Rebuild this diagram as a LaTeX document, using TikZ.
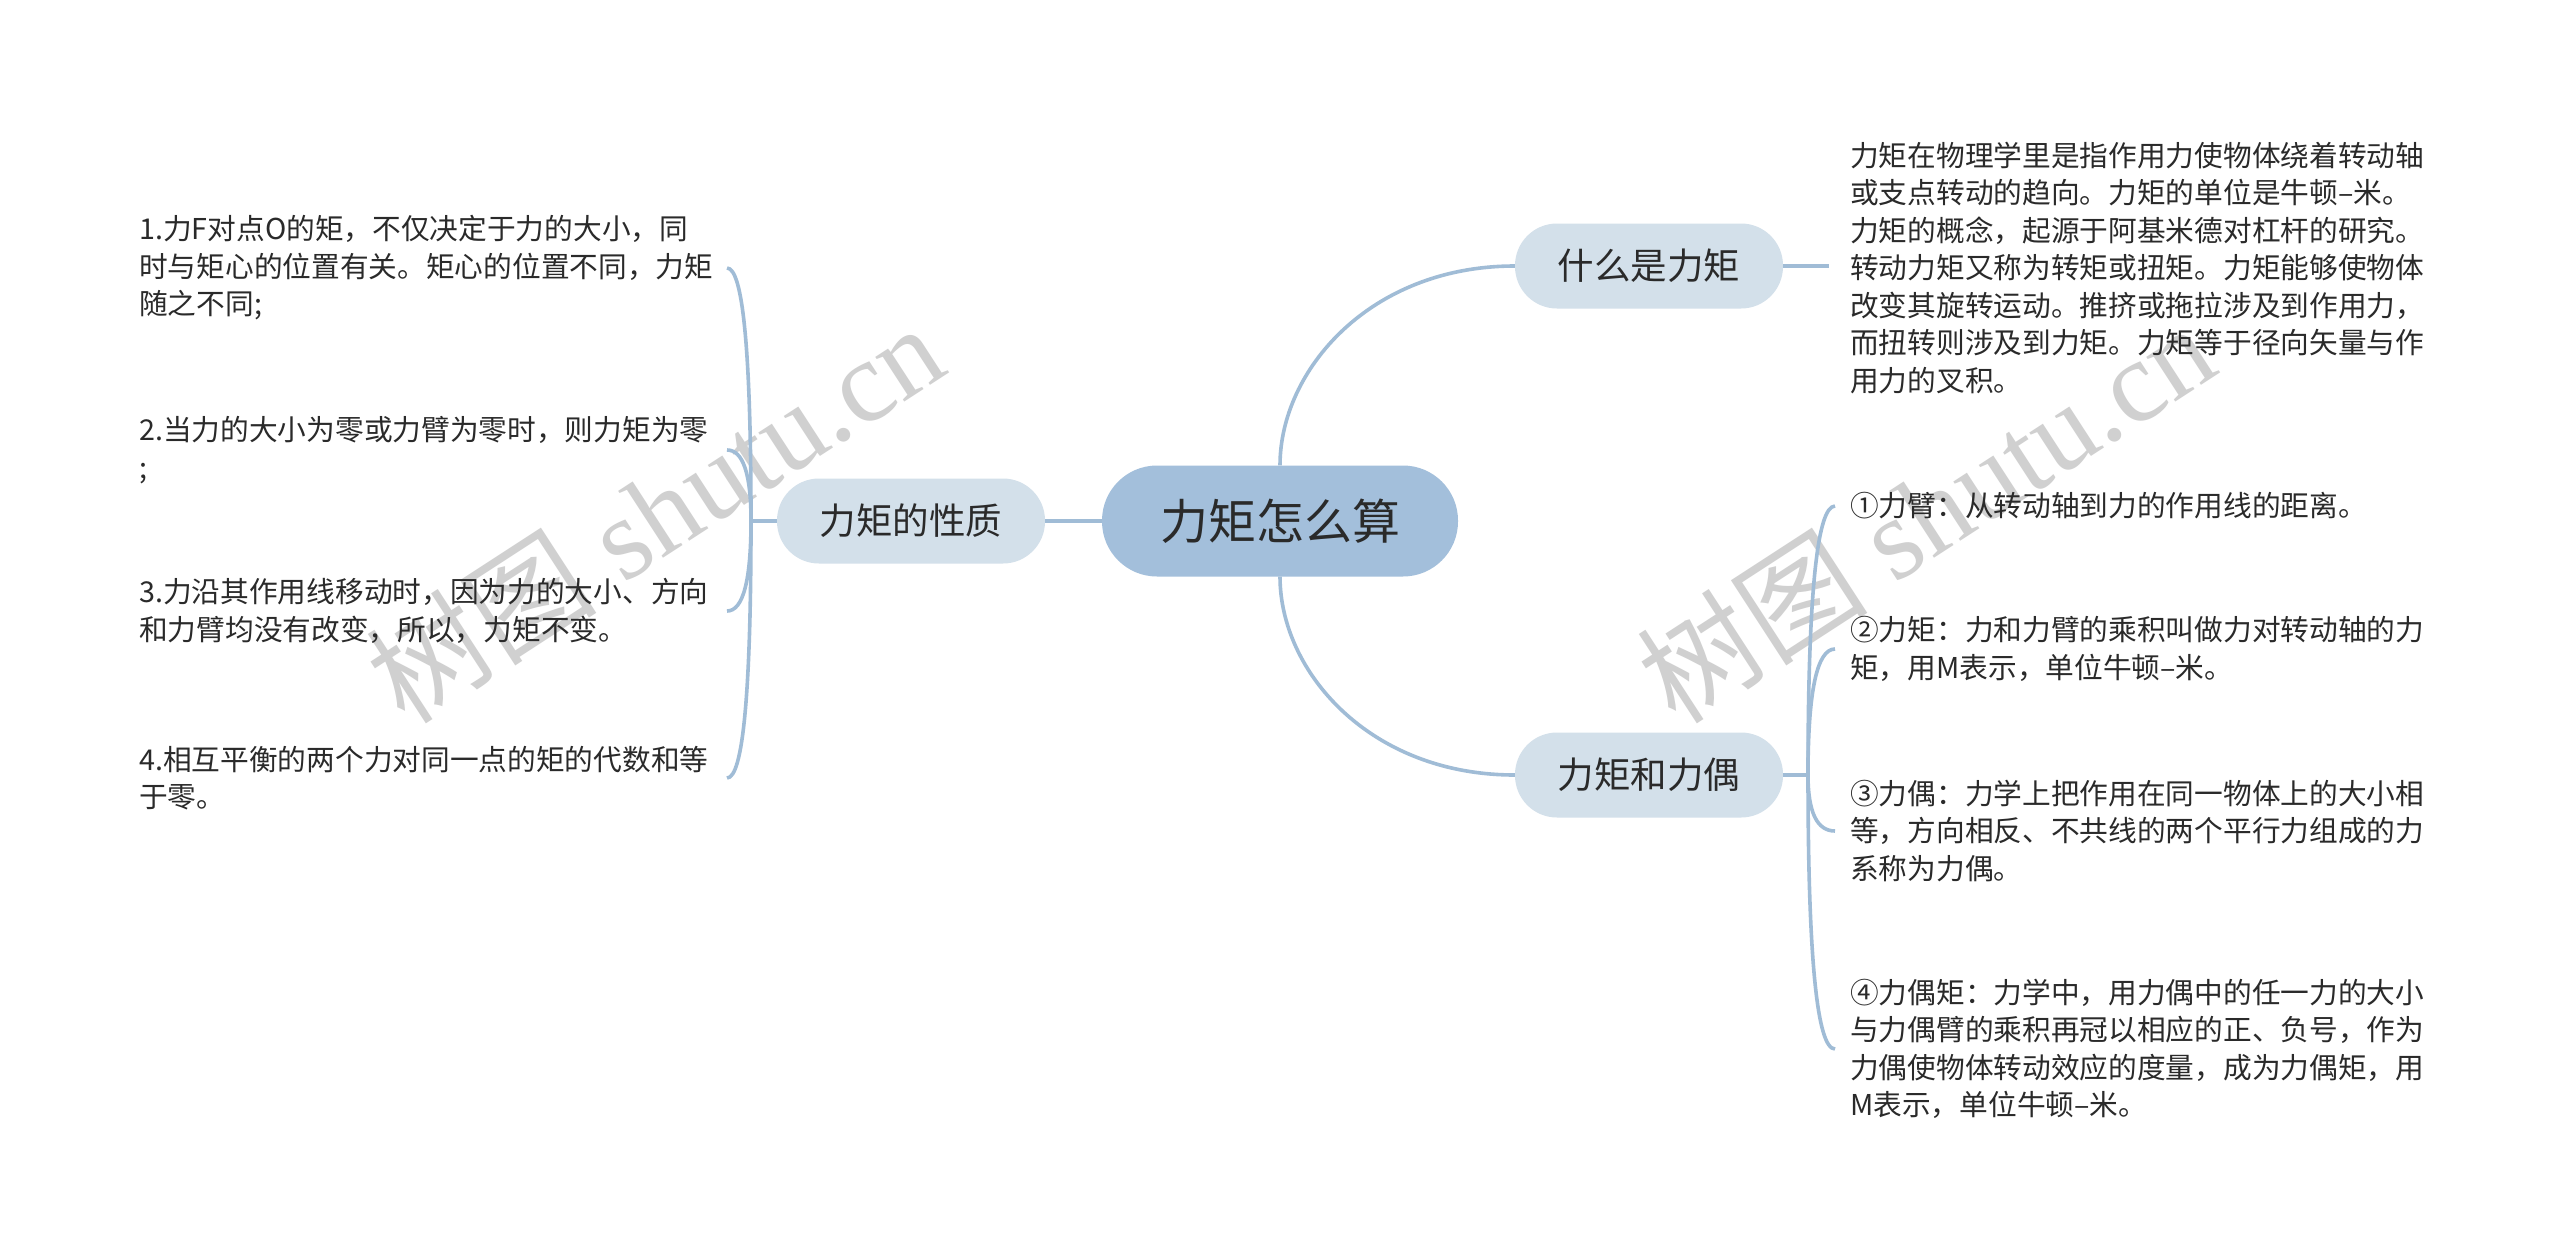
\documentclass[tikz,border=0pt]{standalone}
\usepackage{fontspec}
\setmainfont{Noto Sans CJK SC}
\newfontfamily\wmfont{Liberation Serif}
\usetikzlibrary{calc}
\definecolor{linec}{HTML}{A0BCD6}
\definecolor{rootc}{HTML}{A3BFDB}
\definecolor{subc}{HTML}{D3E0EA}
\definecolor{txtc}{HTML}{2A2A2A}
\definecolor{wmc}{HTML}{D0D0D0}
\begin{document}
\begin{tikzpicture}[x=1pt,y=-1pt,
  conn/.style={draw=linec,line width=3.6pt},
  rootnode/.style={fill=rootc,minimum width=356pt,minimum height=111pt,rounded corners=55pt,font=\fontsize{48}{58}\selectfont,text=txtc,inner sep=0pt},
  subnode/.style={fill=subc,minimum width=268pt,minimum height=85pt,rounded corners=42pt,font=\fontsize{36.5}{44}\selectfont,text=txtc,inner sep=0pt},
  leaf/.style={anchor=west,align=left,inner sep=0pt,font=\fontsize{28.7}{37.5}\selectfont,text=txtc},
  wm/.style={text=wmc,rotate=33,font=\fontsize{116}{124}\selectfont,inner sep=0pt}]
\fill[white] (0,0) rectangle (2560,1259);
\useasboundingbox (0,0) rectangle (2560,1259);

% watermarks
\node[wm] (wm1) at (654,512) {树图{\wmfont\ shutu.cn}};
\node[wm] (wm2) at (1925,512) {树图{\wmfont\ shutu.cn}};

% main nodes
\node[rootnode] (C) at (1280,521) {力矩怎么算};
\node[subnode] (Q) at (1649,266) {什么是力矩};
\node[subnode] (B) at (1649,775) {力矩和力偶};
\node[subnode] (P) at (911,521) {力矩的性质};

% main connectors
\draw[conn] (C.north) .. controls ($(C.north)+(0,-95)$) and ($(Q.west)+(-145,0)$) .. (Q.west);
\draw[conn] (C.south) .. controls ($(C.south)+(0,95)$) and ($(B.west)+(-145,0)$) .. (B.west);
\draw[conn] (C.west) -- (P.east);

% left leaves
\node[leaf] (l1) at (139,268) {1.力F对点O的矩，不仅决定于力的大小，同\\时与矩心的位置有关。矩心的位置不同，力矩\\随之不同;};
\node[leaf] (l2) at (139,450) {2.当力的大小为零或力臂为零时，则力矩为零\\;};
\node[leaf] (l3) at (139,611) {3.力沿其作用线移动时，因为力的大小、方向\\和力臂均没有改变，所以，力矩不变。};
\node[leaf] (l4) at (139,778) {4.相互平衡的两个力对同一点的矩的代数和等\\于零。};

\coordinate (JL) at (751,521);
\coordinate (EL1) at (727,268);
\coordinate (EL2) at (727,450);
\coordinate (EL3) at (727,611);
\coordinate (EL4) at (727,778);
\draw[conn] (P.west) -- (JL);
\draw[conn] (JL) .. controls (751,352.3) and (743,268) .. (EL1);
\draw[conn] (JL) .. controls (751,473.7) and (743,450) .. (EL2);
\draw[conn] (JL) .. controls (751,581) and (743,611) .. (EL3);
\draw[conn] (JL) .. controls (751,692.3) and (743,778) .. (EL4);

% top right leaf
\coordinate (QE) at (1829,266);
\draw[conn] (Q.east) -- (QE);
\node[leaf] (t0) at (1850,268) {力矩在物理学里是指作用力使物体绕着转动轴\\或支点转动的趋向。力矩的单位是牛顿–米。\\力矩的概念，起源于阿基米德对杠杆的研究。\\转动力矩又称为转矩或扭矩。力矩能够使物体\\改变其旋转运动。推挤或拖拉涉及到作用力，\\而扭转则涉及到力矩。力矩等于径向矢量与作\\用力的叉积。};

% bottom right leaves
\node[leaf] (r1) at (1850,506) {①力臂：从转动轴到力的作用线的距离。};
\node[leaf] (r2) at (1850,649) {②力矩：力和力臂的乘积叫做力对转动轴的力\\矩，用M表示，单位牛顿–米。};
\node[leaf] (r3) at (1850,831) {③力偶：力学上把作用在同一物体上的大小相\\等，方向相反、不共线的两个平行力组成的力\\系称为力偶。};
\node[leaf] (r4) at (1850,1049) {④力偶矩：力学中，用力偶中的任一力的大小\\与力偶臂的乘积再冠以相应的正、负号，作为\\力偶使物体转动效应的度量，成为力偶矩，用\\M表示，单位牛顿–米。};

\coordinate (JR) at (1808,775);
\coordinate (ER1) at (1835,506);
\coordinate (ER2) at (1835,649);
\coordinate (ER3) at (1835,831);
\coordinate (ER4) at (1835,1049);
\draw[conn] (B.east) -- (JR);
\draw[conn] (JR) .. controls (1808,595.7) and (1817,506) .. (ER1);
\draw[conn] (JR) .. controls (1808,691) and (1817,649) .. (ER2);
\draw[conn] (JR) .. controls (1808,812.3) and (1817,831) .. (ER3);
\draw[conn] (JR) .. controls (1808,957.7) and (1817,1049) .. (ER4);
\end{tikzpicture}
\end{document}
